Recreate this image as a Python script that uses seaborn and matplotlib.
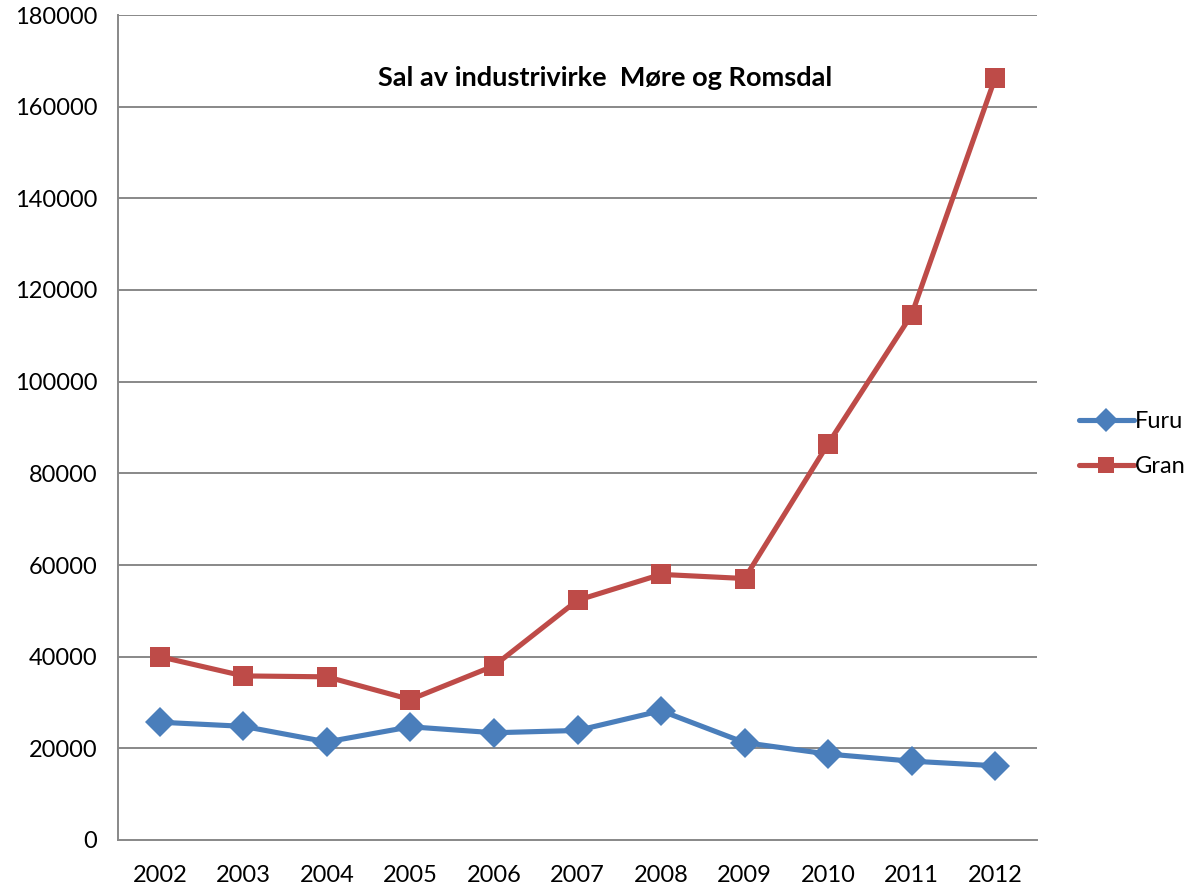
import numpy as np
import pandas as pd
import matplotlib
matplotlib.use("Agg")
import matplotlib.pyplot as plt
import seaborn as sns

# Sal av industrivirke, Møre og Romsdal (m3)
years = ["2002", "2003", "2004", "2005", "2006", "2007", "2008", "2009", "2010", "2011", "2012"]
furu = [25700, 24800, 21400, 24700, 23400, 23900, 28200, 21250, 18750, 17200, 16200]
gran = [40000, 35800, 35600, 30650, 38000, 52300, 57950, 57050, 86450, 114650, 166300]
series_names = ["Furu", "Gran"]
y_ticks = [0, 20000, 40000, 60000, 80000, 100000, 120000, 140000, 160000, 180000]

df = pd.DataFrame({
    "pos": list(range(len(years))) * 2,
    "verdi": furu + gran,
    "serie": ["Furu"] * len(years) + ["Gran"] * len(years),
})

sns.set_style("white")
plt.rcParams["font.family"] = ["Lato", "DejaVu Sans"]
plt.rcParams["text.color"] = "black"
plt.rcParams["xtick.color"] = "black"
plt.rcParams["ytick.color"] = "black"

fig = plt.figure(figsize=(11.93, 8.89), dpi=100)
ax = fig.add_axes([118 / 1193, 1 - 840 / 889, 919 / 1193, 825 / 889])

grid_col = "#888888"
for v in y_ticks[1:]:
    ax.axhline(v, color=grid_col, lw=1.4, zorder=0)

sns.lineplot(data=df, x="pos", y="verdi", hue="serie", style="serie",
             palette={"Furu": "#4A7EBB", "Gran": "#BE4B48"},
             markers={"Furu": "D", "Gran": "s"}, dashes=False,
             linewidth=3.7, markersize=15, markeredgewidth=0,
             ax=ax, legend=False, zorder=3)

ax.set_xlim(-0.5, len(years) - 0.5)
ax.set_ylim(0, 180000)
ax.set_yticks(y_ticks)
ax.set_yticklabels([str(v) for v in y_ticks], fontsize=17)
ax.set_xticks(range(len(years)))
ax.set_xticklabels(years, fontsize=17)
ax.set_xticks(np.arange(-0.5, len(years), 1), minor=True)
ax.tick_params(axis="x", which="major", length=0, pad=18)
ax.tick_params(axis="x", which="minor", length=7, color=grid_col, width=1.4, direction="out")
ax.tick_params(axis="y", length=7, color=grid_col, width=1.4, direction="out", pad=8)
ax.set_xlabel("")
ax.set_ylabel("")

for s in ["top", "right"]:
    ax.spines[s].set_visible(False)
for s in ["left", "bottom"]:
    ax.spines[s].set_color(grid_col)
    ax.spines[s].set_linewidth(1.4)

ax.text(0.530, 0.924, "Sal av industrivirke  Møre og Romsdal", transform=ax.transAxes,
        ha="center", va="center", fontsize=19.5, fontweight="bold")

handles = [
    plt.Line2D([], [], color="#4A7EBB", lw=3.7, marker="D", markersize=12, markeredgewidth=0),
    plt.Line2D([], [], color="#BE4B48", lw=3.7, marker="s", markersize=12, markeredgewidth=0),
]
fig.legend(handles, series_names, loc="center left", bbox_to_anchor=(1058 / 1193, 1 - 444 / 889),
           frameon=False, fontsize=17, handlelength=2.3, handletextpad=0.05, labelspacing=1.0)

fig.savefig("out.png", dpi=100)
